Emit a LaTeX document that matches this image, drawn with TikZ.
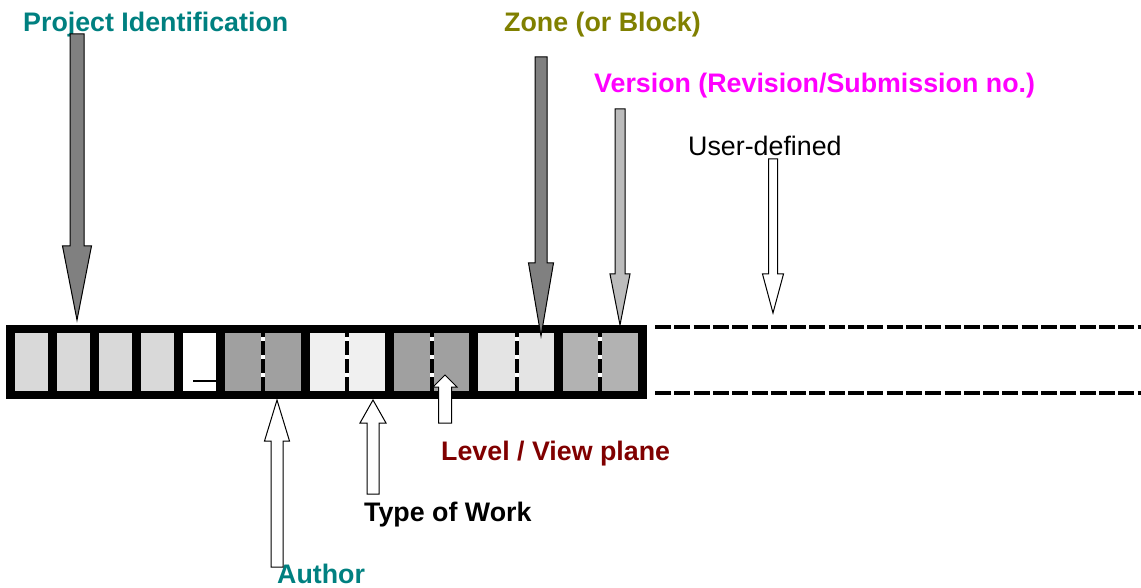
\documentclass[tikz,border=0pt]{standalone}
\usepackage{fontspec}
\setmainfont{Liberation Sans}
\definecolor{idteal}{HTML}{008080}
\definecolor{zoneolive}{HTML}{808000}
\definecolor{versionmag}{HTML}{FF00FF}
\definecolor{levelred}{HTML}{800000}
\definecolor{cellpale}{HTML}{D9D9D9}
\definecolor{celldark}{HTML}{A0A0A0}
\definecolor{celllight}{HTML}{F0F0F0}
\definecolor{cellsoft}{HTML}{E4E4E4}
\definecolor{cellmid}{HTML}{B2B2B2}
% block arrow: x, shaft half width, head half width, tail, head base, tip, fill
\newcommand{\blockarrow}[7]{%
  \draw[arrowline,fill=#7] (#1-#2,#4) -- (#1+#2,#4) -- (#1+#2,#5) -- (#1+#3,#5)
    -- (#1,#6) -- (#1-#3,#5) -- (#1-#2,#5) -- cycle;}
\begin{document}
\begin{tikzpicture}[x=1pt,y=-1pt,font=\fontsize{26.8}{32}\selectfont\bfseries,
    lbl/.style={anchor=base west,inner sep=0pt},
    arrowline/.style={draw=black,line width=1pt,line join=miter},
    split/.style={line width=4.5pt,dash pattern=on 14pt off 4pt,dash phase=10pt}]
  \useasboundingbox (0,0) rectangle (1141,588);
  % the bar with its fields
  \fill[black] (6,325) rectangle (647,399);
  \foreach \xa/\xb/\col in {15/48/cellpale,57/90/cellpale,99/132/cellpale,141/174/cellpale,
      183/216/white,225/301/celldark,310/385/celllight,394/469/celldark,
      478/554/cellsoft,563/638/cellmid}
    \fill[\col] (\xa,333) rectangle (\xb,391);
  \draw[line width=2pt] (193,381) -- (216,381); % underscore
  \foreach \xs in {263,347,432,517,600}{
    \draw[white,line width=4.5pt] (\xs,333) -- (\xs,391);
    \draw[split] (\xs,333) -- (\xs,391);
  }
  % open end for user-defined fields
  \draw[line width=4pt,dash pattern=on 16pt off 3.3pt] (655,327) -- (1141,327);
  \draw[line width=4pt,dash pattern=on 16pt off 3.3pt] (655,393) -- (1141,393);
  % labels
  \node[lbl,text=idteal] (projid) at (23,32) {Project Identification};
  \node[lbl,text=zoneolive] (zone) at (504,32) {Zone (or Block)};
  \node[lbl,text=versionmag] (version) at (594,93) {Version (Revision/Submission no.)};
  \node[lbl,font=\fontsize{26.8}{32}\selectfont] (userdef) at (688,156) {User-defined};
  \node[lbl,text=levelred] (level) at (441,460) {Level / View plane};
  \node[lbl] (worktype) at (364,521) {Type of Work};
  \node[lbl,text=idteal] (author) at (277,583) {Author};
  % arrows from above
  \blockarrow{77}{7}{14.5}{34}{246}{320}{gray}
  \blockarrow{541}{6}{12.5}{57}{263}{336}{gray}
  \blockarrow{620}{5}{10}{109}{274}{325}{lightgray!95!gray}
  \blockarrow{773}{4.5}{10.5}{159}{274}{313}{white}
  % arrows from below
  \blockarrow{277}{6}{12.5}{567}{441}{400}{white}
  \blockarrow{373}{6}{13}{494}{423}{400}{white}
  \blockarrow{445}{6.5}{12}{423}{387}{375}{white}
\end{tikzpicture}
\end{document}
